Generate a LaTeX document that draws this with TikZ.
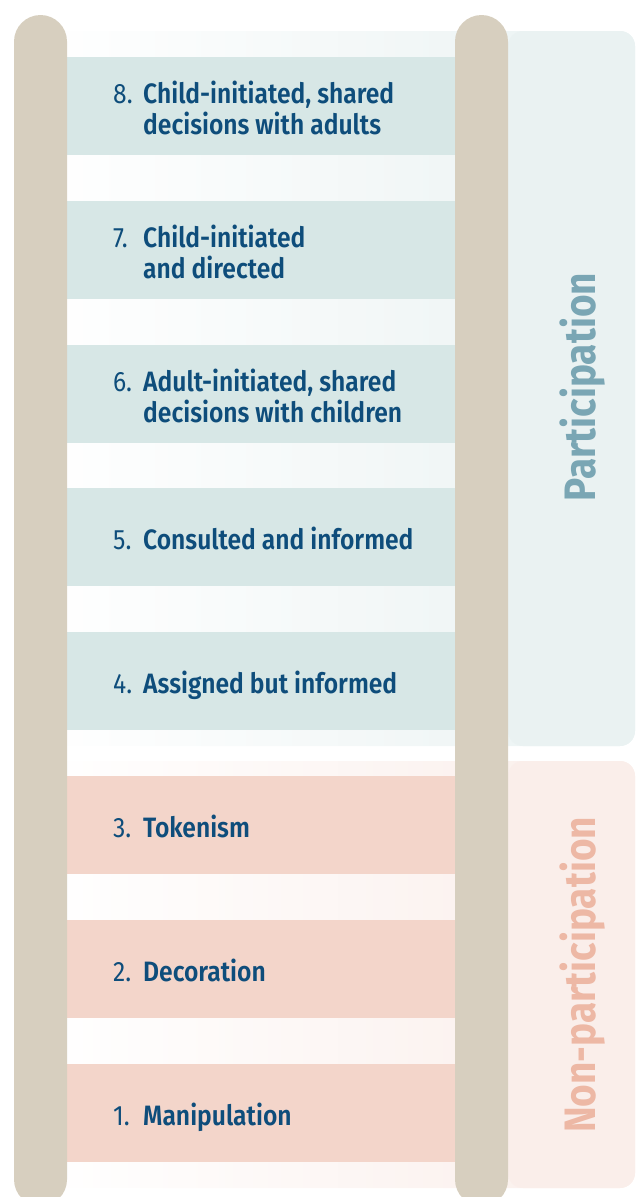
\documentclass[tikz,border=0pt]{standalone}
\usepackage{fontspec}
\setmainfont{Fira Sans}[FakeStretch=0.88, BoldFont={Fira Sans SemiBold}]
\newfontfamily\labfont{Fira Sans Bold}[FakeStretch=0.88]
\usetikzlibrary{positioning}
\definecolor{rail}{HTML}{D7CFBF}
\definecolor{rungT}{HTML}{D7E7E6}
\definecolor{rungP}{HTML}{F3D5CA}
\definecolor{panT}{HTML}{EAF2F2}
\definecolor{panP}{HTML}{FAEEEA}
\definecolor{txt}{HTML}{0E4D7B}
\definecolor{labT}{HTML}{7AA6B4}
\definecolor{labP}{HTML}{EDB8A5}
\tikzset{
  railbar/.style={fill=rail, draw=none, rounded corners=26.5pt},
  rungbox/.style={draw=none, minimum width=388pt, minimum height=98pt, anchor=north west, inner sep=0pt},
  rungtxt/.style={anchor=west, text=txt, font=\fontsize{28}{30}\selectfont, inner sep=0pt, align=left},
  sidelab/.style={rotate=90, font=\fontsize{44}{48}\selectfont\labfont, inner sep=0pt}
}
\newcommand{\rl}[2]{\begin{tabular}{@{}l@{\hspace{10pt}}l@{}}\makebox[20pt][l]{#1} & \textbf{#2}\end{tabular}}
\newcommand{\rll}[3]{\begin{tabular}{@{}l@{\hspace{10pt}}l@{}}\makebox[20pt][l]{#1} & \textbf{#2}\\ & \textbf{#3}\end{tabular}}
\begin{document}
\begin{tikzpicture}[x=1pt,y=-1pt]
\useasboundingbox (0,0) rectangle (635,1197);
\begin{scope}
\clip (0,0) rectangle (635,1197);
% panels
\shade[left color=white, right color=panT, rounded corners=15pt] (40,31) rectangle (635,746);
\fill[panT, rounded corners=15pt] (508,31) rectangle (635,746);
\shade[left color=white, right color=panP, rounded corners=15pt] (40,761) rectangle (635,1188);
\fill[panP, rounded corners=15pt] (508,761) rectangle (635,1188);
% rungs
\node[rungbox, fill=rungT] (r8) at (67,57) {};
\node[rungbox, fill=rungT] (r7) at (67,201) {};
\node[rungbox, fill=rungT] (r6) at (67,345) {};
\node[rungbox, fill=rungT] (r5) at (67,488) {};
\node[rungbox, fill=rungT] (r4) at (67,632) {};
\node[rungbox, fill=rungP] (r3) at (67,776) {};
\node[rungbox, fill=rungP] (r2) at (67,920) {};
\node[rungbox, fill=rungP] (r1) at (67,1064) {};
% rails
\fill[railbar] (14,15) rectangle (67,1206);
\fill[railbar] (455,15) rectangle (508,1206);
\end{scope}
% texts
\node[rungtxt] (t8) at ([xshift=46pt,yshift=-6pt]r8.west) {\rll{8.}{Child-initiated, shared}{decisions with adults}};
\node[rungtxt] (t7) at ([xshift=46pt,yshift=-6pt]r7.west) {\rll{7.}{Child-initiated}{and directed}};
\node[rungtxt] (t6) at ([xshift=46pt,yshift=-6pt]r6.west) {\rll{6.}{Adult-initiated, shared}{decisions with children}};
\node[rungtxt] (t5) at ([xshift=46pt,yshift=-6pt]r5.west) {\rl{5.}{Consulted and informed}};
\node[rungtxt] (t4) at ([xshift=46pt,yshift=-6pt]r4.west) {\rl{4.}{Assigned but informed}};
\node[rungtxt] (t3) at ([xshift=46pt,yshift=-6pt]r3.west) {\rl{3.}{Tokenism}};
\node[rungtxt] (t2) at ([xshift=46pt,yshift=-6pt]r2.west) {\rl{2.}{Decoration}};
\node[rungtxt] (t1) at ([xshift=46pt,yshift=-6pt]r1.west) {\rl{1.}{Manipulation}};
\node[sidelab, text=labT] (lp) at (583,387) {Participation};
\node[sidelab, text=labP] (ln) at (583,975) {Non-participation};
\end{tikzpicture}
\end{document}
